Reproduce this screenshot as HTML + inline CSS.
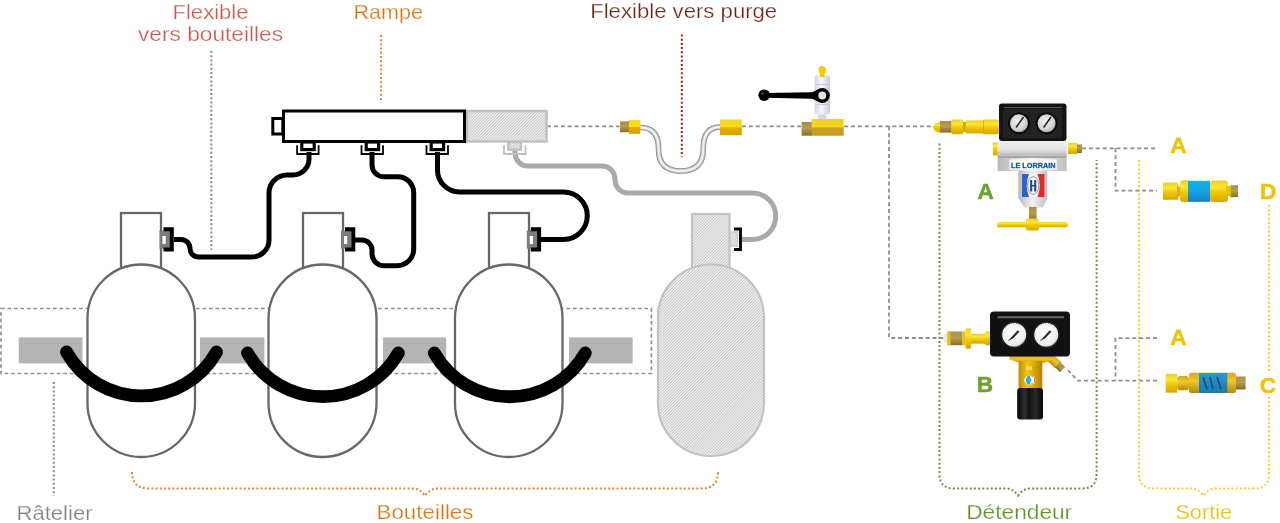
<!DOCTYPE html>
<html><head><meta charset="utf-8">
<style>
html,body{margin:0;padding:0;background:#fff;width:1280px;height:523px;overflow:hidden}
svg{display:block;will-change:transform}
text{font-family:"Liberation Sans",sans-serif}
</style></head><body>
<svg width="1280" height="523" viewBox="0 0 1280 523">
<defs>
<pattern id="hatch" width="2.05" height="4" patternUnits="userSpaceOnUse" patternTransform="rotate(45)">
<rect width="2.05" height="4" fill="#f7f7f7"/>
<rect x="0" y="0" width="0.95" height="4" fill="#c2c2c2"/>
</pattern>

<linearGradient id="yel" x1="0" y1="0" x2="0" y2="1">
<stop offset="0" stop-color="#f2cf10"/><stop offset="0.3" stop-color="#fbe640"/><stop offset="0.55" stop-color="#f0c800"/><stop offset="1" stop-color="#d9a400"/>
</linearGradient>
<linearGradient id="yel2" x1="0" y1="0" x2="0" y2="1">
<stop offset="0" stop-color="#f5d820"/><stop offset="0.5" stop-color="#f7dc24"/><stop offset="0.52" stop-color="#e2ad00"/><stop offset="1" stop-color="#d99f00"/>
</linearGradient>
<linearGradient id="yel3" x1="0" y1="0" x2="0" y2="1">
<stop offset="0" stop-color="#f2d020"/><stop offset="0.5" stop-color="#f4d424"/><stop offset="0.52" stop-color="#c9a020"/><stop offset="1" stop-color="#c49a1c"/>
</linearGradient>
<linearGradient id="brass" x1="0" y1="0" x2="0" y2="1">
<stop offset="0" stop-color="#a88c48"/><stop offset="0.45" stop-color="#b89c50"/><stop offset="1" stop-color="#866c2c"/>
</linearGradient>
<linearGradient id="gold" x1="0" y1="0" x2="0" y2="1">
<stop offset="0" stop-color="#d8a818"/><stop offset="0.4" stop-color="#f0c828"/><stop offset="1" stop-color="#b88810"/>
</linearGradient>
<linearGradient id="blue" x1="0" y1="0" x2="0" y2="1">
<stop offset="0" stop-color="#10b0e8"/><stop offset="0.5" stop-color="#1aa0e0"/><stop offset="1" stop-color="#1580c8"/>
</linearGradient>
<linearGradient id="blue2" x1="0" y1="0" x2="0" y2="1">
<stop offset="0" stop-color="#2a9ad0"/><stop offset="1" stop-color="#1a78b0"/>
</linearGradient>
<linearGradient id="silv" x1="0" y1="0" x2="1" y2="0">
<stop offset="0" stop-color="#b8b8bc"/><stop offset="0.5" stop-color="#f2f2f2"/><stop offset="1" stop-color="#c0c0c4"/>
</linearGradient>
<linearGradient id="silvv" x1="0" y1="0" x2="0" y2="1">
<stop offset="0" stop-color="#f0f0f0"/><stop offset="0.6" stop-color="#e4e4e4"/><stop offset="1" stop-color="#b8b8b8"/>
</linearGradient>
<linearGradient id="knob" x1="0" y1="0" x2="1" y2="0">
<stop offset="0" stop-color="#050505"/><stop offset="0.3" stop-color="#303030"/><stop offset="0.45" stop-color="#111"/><stop offset="0.7" stop-color="#2a2a2a"/><stop offset="1" stop-color="#050505"/>
</linearGradient>
<linearGradient id="lav" x1="0" y1="0" x2="1" y2="0">
<stop offset="0" stop-color="#d4d4e4"/><stop offset="0.45" stop-color="#f8f8fc"/><stop offset="1" stop-color="#c8c8dc"/>
</linearGradient>
<radialGradient id="gauge" cx="0.45" cy="0.4" r="0.6">
<stop offset="0" stop-color="#f4f4f4"/><stop offset="0.8" stop-color="#d0d0d0"/><stop offset="1" stop-color="#a0a0a0"/>
</radialGradient>
<radialGradient id="gaugeB" cx="0.45" cy="0.4" r="0.6">
<stop offset="0" stop-color="#ffffff"/><stop offset="0.85" stop-color="#ececec"/><stop offset="1" stop-color="#b0b0b0"/>
</radialGradient>
</defs>

<!-- labels -->
<g font-size="20.8" stroke="#fff" stroke-width="0.25">
<text x="172.5" y="18.7" fill="#ca5a52" textLength="76" lengthAdjust="spacingAndGlyphs">Flexible</text>
<text x="138" y="41.2" fill="#ca5a52" textLength="145" lengthAdjust="spacingAndGlyphs">vers bouteilles</text>
<text x="353.5" y="19" fill="#dc7414" textLength="69.5" lengthAdjust="spacingAndGlyphs">Rampe</text>
<text x="590.2" y="18" fill="#6c2818" textLength="187" lengthAdjust="spacingAndGlyphs">Flexible vers purge</text>
<text x="16.5" y="519.5" fill="#808080" textLength="76" lengthAdjust="spacingAndGlyphs">Râtelier</text>
<text x="376.5" y="519" fill="#dc7414" textLength="97" lengthAdjust="spacingAndGlyphs">Bouteilles</text>
<text x="966.2" y="518.8" fill="#5f9222" textLength="106" lengthAdjust="spacingAndGlyphs">Détendeur</text>
<text x="1175.2" y="518.8" fill="#ecbc0c" textLength="57" lengthAdjust="spacingAndGlyphs">Sortie</text>
</g>
<g font-size="22.6" font-weight="bold" stroke-width="0.5">
<text x="985.6" y="198.9" fill="#6ea22e" stroke="#6ea22e" text-anchor="middle">A</text>
<text x="985" y="391.8" fill="#6ea22e" stroke="#6ea22e" text-anchor="middle">B</text>
<text x="1178.3" y="152.8" fill="#f2c200" stroke="#f2c200" text-anchor="middle">A</text>
<text x="1268.2" y="199.2" fill="#f2c200" stroke="#f2c200" text-anchor="middle">D</text>
<text x="1178.3" y="344.9" fill="#f2c200" stroke="#f2c200" text-anchor="middle">A</text>
<text x="1267.8" y="392.8" fill="#f2c200" stroke="#f2c200" text-anchor="middle">C</text>
</g>

<!-- dotted leader lines -->
<g fill="none" stroke-width="2" stroke-dasharray="2 2.2">
<line x1="211.3" y1="51" x2="211.3" y2="250" stroke="#8a8a8a"/>
<line x1="381" y1="35" x2="381" y2="101" stroke="#e8882a"/>
<line x1="681.8" y1="34.5" x2="681.8" y2="157" stroke="#8a2a1a"/>
<line x1="53.8" y1="382" x2="53.8" y2="496" stroke="#8a8a8a"/>
<path d="M132,472 Q132,488.5 149,488.5 L413,488.5 Q420,488.5 425,496 Q430,488.5 437,488.5 L701,488.5 Q718,488.5 718,472" stroke="#e8882a"/>
<path d="M939.5,143.5 L939.5,474 Q939.5,488.5 954,488.5 L1006,488.5 Q1013,488.5 1018,495.6 Q1023,488.5 1030,488.5 L1082,488.5 Q1096.6,488.5 1096.6,474 L1096.6,160" stroke="#6a9040"/>
<path d="M1139,160 L1139,474 Q1139,488.5 1153.5,488.5 L1191,488.5 Q1198,488.5 1203.4,495.6 Q1208.5,488.5 1215.5,488.5 L1254.5,488.5 Q1269,488.5 1269,474 L1269,396 M1269,371 L1269,205" stroke="#f6cc30"/>
</g>

<!-- dashed gray lines -->
<g fill="none" stroke="#8e8e8e" stroke-width="1.8" stroke-dasharray="4 2.9">
<path d="M547,126.3 L619.5,126.3 M742,126.3 L801,126.3 M844,126.3 L933,126.3"/>
<path d="M889,126.3 L889,338 L943,338"/>
<path d="M1082,148.3 L1157,148.3 M1115.5,148.3 L1115.5,190.6 L1157,190.6"/>
<path d="M1157,338.2 L1115.5,338.2 L1115.5,380.6 M1068,370 L1077.5,380.6 L1157,380.6"/>
</g>

<!-- rack -->
<rect x="1" y="308.5" width="650.4" height="65" fill="none" stroke="#8e8e8e" stroke-width="1.7" stroke-dasharray="3.6 2.9"/>
<g fill="#b4b4b4">
<rect x="18.75" y="337.4" width="63.75" height="26"/>
<rect x="200" y="337.4" width="64.4" height="26"/>
<rect x="383" y="337.4" width="63.2" height="26"/>
<rect x="569" y="337.4" width="63.7" height="26"/>
</g>

<!-- bottles -->
<g fill="#fff" stroke="#676767" stroke-width="2.3">
<rect x="121" y="213" width="40" height="70"/>
<rect x="87.5" y="264.5" width="107.5" height="192.5" rx="53.75"/>
<rect x="303" y="213" width="40" height="70"/>
<rect x="268.5" y="264.5" width="108" height="192.5" rx="54"/>
<rect x="489" y="213" width="40" height="70"/>
<rect x="455" y="264.5" width="107.5" height="192.5" rx="53.75"/>
</g>
<g fill="url(#hatch)" stroke="#c2c2c2" stroke-width="2.2">
<rect x="692" y="214" width="37.5" height="70"/>
<rect x="658" y="264.5" width="106" height="191.5" rx="53"/>
</g>

<!-- arcs -->
<g fill="none" stroke="#000" stroke-width="12.8" stroke-linecap="round">
<path d="M66.5,352 A86,86 0 0 0 216.5,352"/>
<path d="M247.5,353 A87,87 0 0 0 398.4,353"/>
<path d="M434.3,353 A87,87 0 0 0 585.3,353"/>
</g>

<!-- hoses -->
<g fill="none" stroke="#000" stroke-width="5" stroke-linejoin="round">
<path d="M174,239.5 L181,239.5 A9,9 0 0 1 190,248.5 A8.5,8.5 0 0 0 198.5,257 L252,257 A17,17 0 0 0 269,240 L269,193 A18,18 0 0 1 287,175 L293,175 A16,16 0 0 0 309,159 L309,152"/>
<path d="M372,152 L372,165 A11.7,11.7 0 0 0 383.7,176.7 L397.7,176.7 A16,16 0 0 1 413.7,192.7 L413.7,249 A16.7,16.7 0 0 1 397,265.7 L384,265.7 A12,12 0 0 1 372,253.7 L372,250 A10,10 0 0 0 362,240 L355,240"/>
<path d="M437.5,152 L437.5,170 A22,22 0 0 0 459.5,192 L563.5,192 A23.75,23.75 0 0 1 563.5,239.5 L541,239.5"/>
</g>
<path d="M515,150 L515,153 A13,13 0 0 0 528,166 L602,166 A13,13 0 0 1 615,179 L615,180 A13,13 0 0 0 628,193 L752.5,193 A23.25,23.25 0 0 1 752.5,239.5 L742,239.5" fill="none" stroke="#a9a9a9" stroke-width="5"/>

<!-- bottle connectors -->
<g id="bc2">
<rect x="341" y="230.7" width="10.4" height="18" fill="#7c7c7c"/>
<rect x="344" y="236" width="3.2" height="8" fill="#fff"/>
<path d="M345,229.2 L353.3,229.2 L353.3,249.5 L345,249.5" fill="none" stroke="#000" stroke-width="4"/>
</g>
<use href="#bc2" x="-181.5"/>
<use href="#bc2" x="185.8"/>
<g>
<rect x="730" y="232" width="7.5" height="14" fill="url(#hatch)" stroke="#c8c8c8" stroke-width="1.4"/>
<path d="M734,229 L740.5,229 L740.5,249.5 L734,249.5" fill="none" stroke="#000" stroke-width="2.8"/>
</g>

<!-- ramp -->
<rect x="467" y="111" width="79.5" height="30.5" fill="url(#hatch)" stroke="#c0c0c0" stroke-width="2.5"/>
<rect x="272.8" y="118.5" width="10" height="15.5" fill="#fff" stroke="#000" stroke-width="3"/>
<rect x="283.5" y="111" width="181" height="30.5" fill="#fff" stroke="#000" stroke-width="3"/>
<g id="rc1">
<rect x="431.2" y="142" width="12.4" height="7.6" fill="#fff" stroke="#000" stroke-width="3.2"/>
<path d="M426.5,145.3 L426.5,154 L448,154 L448,145.3" fill="none" stroke="#000" stroke-width="1.8"/>
</g>
<use href="#rc1" x="-129.4"/>
<use href="#rc1" x="-65"/>
<g>
<rect x="508.5" y="142" width="12.4" height="7.6" fill="url(#hatch)" stroke="#c0c0c0" stroke-width="2.6"/>
<path d="M504,145.3 L504,154 L525.5,154 L525.5,145.3" fill="none" stroke="#c0c0c0" stroke-width="1.8"/>
</g>


<!-- U-tube purge -->
<g>
<path d="M640,127.5 Q658.5,127.5 658.5,148 L658.5,149 Q658.5,171 680.6,171 Q703.3,171 703.3,149 L703.3,148 Q703.3,127 720.5,127" fill="none" stroke="#888" stroke-width="5.6"/>
<path d="M640,127.5 Q658.5,127.5 658.5,148 L658.5,149 Q658.5,171 680.6,171 Q703.3,171 703.3,149 L703.3,148 Q703.3,127 720.5,127" fill="none" stroke="#c4c4c4" stroke-width="4"/>
<path d="M640,127.5 Q658.5,127.5 658.5,148 L658.5,149 Q658.5,171 680.6,171 Q703.3,171 703.3,149 L703.3,148 Q703.3,127 720.5,127" fill="none" stroke="#f2f2f2" stroke-width="2"/>
<rect x="620" y="121.4" width="9" height="10.8" fill="url(#brass)"/>
<rect x="629" y="120" width="11.4" height="13.8" fill="url(#yel2)"/>
<rect x="720" y="119.4" width="21.8" height="15.8" fill="url(#yel2)"/>
</g>

<!-- valve -->
<g>
<rect x="801.6" y="122" width="10.5" height="13.7" fill="url(#brass)"/>
<rect x="811.6" y="118.9" width="32.1" height="16.8" fill="url(#yel3)"/>
<rect x="818" y="112" width="8.5" height="7" fill="#d8d8e4"/>
<rect x="814.6" y="75.3" width="15.4" height="39" rx="2.5" fill="url(#lav)"/>
<rect x="815" y="84" width="14.6" height="1" fill="#c8c8d8"/>
<rect x="815" y="104" width="14.6" height="1" fill="#c8c8d8"/>
<rect x="820" y="72" width="4.6" height="5" fill="#e8c800"/>
<circle cx="822.3" cy="70" r="3.9" fill="#f2d000"/>
<path d="M764,93 L812,92.3 L818,89.5 L822.3,89 L822.3,102 L818,101.5 L812,98.8 L764,97.8 Z" fill="#000"/>
<circle cx="764.2" cy="95.2" r="5.8" fill="#000"/>
<circle cx="822.3" cy="95.5" r="7.5" fill="#000"/>
<circle cx="822.3" cy="95.5" r="3.9" fill="#e4e4e4"/>
<circle cx="762.5" cy="93.5" r="1.2" fill="#555"/>
</g>

<!-- regulator A -->
<g>
<path d="M932.8,127.2 Q934,122.4 940.5,122 L940.5,132.4 Q934,132 932.8,127.2 Z" fill="url(#yel)"/>
<rect x="940" y="121" width="11.8" height="11.6" fill="url(#brass)"/>
<rect x="951.4" y="119.4" width="11.8" height="14.9" rx="1.8" fill="url(#yel)"/>
<rect x="962.8" y="122" width="3.6" height="10" fill="#d8a800"/>
<rect x="966" y="120.4" width="17.5" height="13" fill="url(#yel)"/>
<rect x="983" y="119.4" width="15.8" height="14.9" rx="1.8" fill="url(#yel)"/>
<rect x="983" y="120" width="1" height="13.7" fill="#c89800" opacity="0.6"/>
<rect x="993" y="142.4" width="7" height="13" fill="url(#yel)"/>
<rect x="1068" y="143" width="9.5" height="11" fill="url(#yel)"/>
<rect x="1077" y="144.5" width="5" height="8.5" fill="url(#brass)"/>
<rect x="999" y="103.5" width="67.5" height="37.5" rx="3" fill="#141414"/>
<line x1="1004" y1="107.5" x2="1062" y2="107.5" stroke="#5a5a5a" stroke-width="1"/>
<rect x="1003" y="109" width="59" height="29" rx="2" fill="#222"/>
<circle cx="1019" cy="123.3" r="10.9" fill="#0a0a0a"/>
<circle cx="1046.6" cy="123.3" r="10.9" fill="#0a0a0a"/>
<circle cx="1019" cy="123.3" r="9" fill="url(#gauge)"/>
<circle cx="1046.6" cy="123.3" r="9" fill="url(#gauge)"/>
<line x1="1016" y1="127.5" x2="1023.5" y2="117" stroke="#222" stroke-width="1.5"/>
<line x1="1043.6" y1="127.5" x2="1051" y2="117" stroke="#222" stroke-width="1.5"/>
<rect x="997.6" y="141" width="69" height="14.5" fill="url(#silvv)"/>
<rect x="997.6" y="155.5" width="69" height="2.5" fill="#a8a8a8"/>
<rect x="997.6" y="158" width="69" height="13" fill="url(#silv)"/>
<rect x="1009.6" y="159.5" width="47" height="10" fill="#fff"/>
<text x="1011" y="167.8" font-size="8" font-weight="bold" fill="#145a8c" stroke="#145a8c" stroke-width="0.35" textLength="44.5" lengthAdjust="spacingAndGlyphs">LE LORRAIN</text>
<rect x="1018.3" y="171" width="29" height="27" fill="url(#silv)"/>
<path d="M1018.3,198 L1047.3,198 L1043,207.5 L1024.5,207.5 Z" fill="url(#silv)"/>
<rect x="1022" y="173.5" width="22.5" height="23.5" rx="2" fill="#f4f4f4"/>
<path d="M1022,174 L1029,174 Q1024.5,185.5 1029,197 L1022,197 Z" fill="#2a64c8"/>
<path d="M1044.5,174 L1037.5,174 Q1042,185.5 1037.5,197 L1044.5,197 Z" fill="#e02a2a"/>
<ellipse cx="1033.2" cy="185.5" rx="5.6" ry="8.8" fill="none" stroke="#6a8ab0" stroke-width="0.8"/>
<rect x="1030.2" y="180" width="2" height="11.5" fill="#1a4a90"/>
<rect x="1034.2" y="180" width="2" height="11.5" fill="#1a4a90"/>
<rect x="1030.2" y="185" width="6" height="1.4" fill="#1a4a90"/>
<rect x="1029" y="207" width="7.6" height="14" fill="url(#brass)"/>
<rect x="997" y="222" width="71" height="5.3" rx="2.6" fill="url(#yel)"/>
<rect x="1026" y="218.5" width="13" height="12" rx="2.5" fill="url(#yel)"/>
</g>

<!-- regulator B -->
<g>
<path d="M943,338.4 Q943,333.8 947.6,333.8 L947.6,343 Q943,343 943,338.4 Z" fill="#e8e8f0"/>
<rect x="947.6" y="331.5" width="14.9" height="13.7" fill="url(#brass)"/>
<rect x="947.6" y="331.5" width="3" height="13.7" fill="#e8c010"/>
<rect x="962.5" y="331.5" width="3" height="13.7" fill="#e8c010"/>
<rect x="965.5" y="328.4" width="5.4" height="20.3" fill="url(#yel)"/>
<rect x="970.9" y="333.8" width="14.1" height="9.9" fill="url(#yel)"/>
<rect x="985" y="331.5" width="6" height="13.7" rx="1.5" fill="url(#yel)"/>
<g transform="rotate(44 1052 359)">
<rect x="1044" y="355" width="17" height="8.5" fill="url(#gold)"/>
<rect x="1060" y="355.6" width="7" height="7.3" fill="url(#brass)"/>
</g>
<path d="M1009.3,356 L1054.5,356 L1054.5,359.5 Q1032,368 1009.3,359.5 Z" fill="url(#gold)"/>
<linearGradient id="neckB" x1="0" y1="0" x2="1" y2="0"><stop offset="0" stop-color="#b88a00"/><stop offset="0.35" stop-color="#f0c418"/><stop offset="0.6" stop-color="#e0b000"/><stop offset="1" stop-color="#b08000"/></linearGradient>
<rect x="1018.6" y="361" width="23.7" height="27.5" fill="url(#neckB)"/>
<rect x="1026" y="366" width="6" height="4" fill="#f8e070" opacity="0.8"/>
<ellipse cx="1030.1" cy="380.1" rx="5.8" ry="4.3" fill="#fff"/>
<path d="M1030.1,375.8 A4.3,4.3 0 0 0 1030.1,384.4 Z" fill="#20a8e0"/>
<path d="M1031,376 A5,4.3 0 0 1 1031,384.2 L1032,383 A3.5,3 0 0 0 1032,377 Z" fill="#d02030"/>
<circle cx="1029" cy="380.1" r="2.4" fill="#30b0e8"/>
<rect x="1017.2" y="388" width="25.8" height="31.5" rx="3" fill="url(#knob)"/>
<rect x="990" y="311.5" width="80" height="45" rx="4" fill="#111"/>
<line x1="997.5" y1="317.3" x2="1064" y2="317.3" stroke="#686868" stroke-width="2"/>
<circle cx="1014.2" cy="334.8" r="12.6" fill="url(#gaugeB)" stroke="#222" stroke-width="1.2"/>
<circle cx="1046.3" cy="334.8" r="12.6" fill="url(#gaugeB)" stroke="#222" stroke-width="1.2"/>
<path d="M1005,328 A11,11 0 0 1 1020,325" fill="none" stroke="#d04040" stroke-width="1" stroke-dasharray="1 1.5"/>
<path d="M1037,328 A11,11 0 0 1 1052,325" fill="none" stroke="#d04040" stroke-width="1" stroke-dasharray="1 1.5"/>
<path d="M1007.5,341.5 L1017.5,330.5 L1019.5,331.5 L1013.5,338 Z" fill="#2a2a2a"/>
<path d="M1039.5,341.5 L1049.5,330.5 L1051.5,331.5 L1045.5,338 Z" fill="#2a2a2a"/>
</g>

<!-- check valve D -->
<g>
<rect x="1163" y="182.6" width="15" height="17.2" rx="1" fill="url(#yel)"/>
<path d="M1177,185 L1181,188 L1181,195 L1177,198 Z" fill="#e0b000"/>
<rect x="1180.2" y="180.3" width="10" height="21.8" rx="3" fill="url(#yel)"/>
<rect x="1188" y="180.8" width="22" height="21" fill="url(#blue)"/>
<rect x="1210" y="180.5" width="18" height="21.5" rx="3" fill="url(#yel)"/>
<rect x="1230.3" y="185.3" width="7.7" height="11.8" fill="url(#brass)"/>
<rect x="1226" y="186" width="5" height="10" fill="#e8c000"/>
</g>

<!-- flashback C -->
<g>
<rect x="1165.7" y="373.9" width="11.5" height="18.7" fill="url(#yel)"/>
<rect x="1177.2" y="376.1" width="11.8" height="14.2" rx="3" fill="url(#gold)"/>
<rect x="1189" y="372.7" width="47" height="20.3" rx="2" fill="url(#gold)"/>
<rect x="1199" y="372.9" width="28.3" height="20" fill="url(#blue2)"/>
<path d="M1203,377 l4,12 M1210,377 l3,12 M1217,377 l4,12" stroke="#1a4a70" stroke-width="1.6"/>
<rect x="1236" y="376.5" width="9.6" height="13" fill="url(#brass)"/>
</g>

</svg>
</body></html>
